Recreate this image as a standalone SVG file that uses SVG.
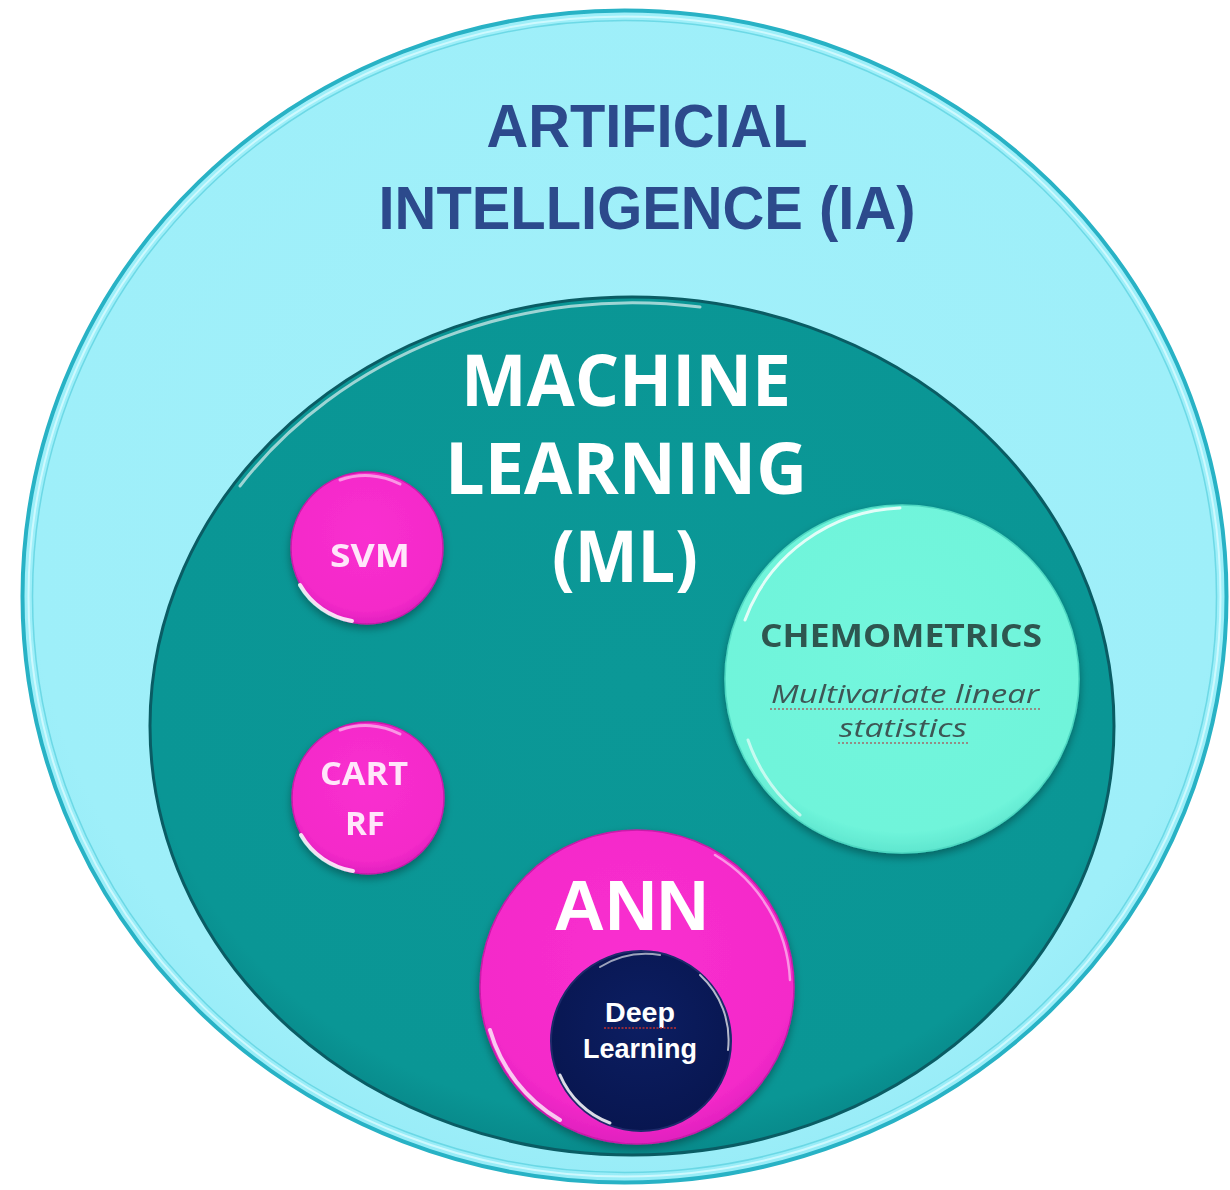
<svg xmlns="http://www.w3.org/2000/svg" width="1230" height="1190" viewBox="0 0 1230 1190">
  <defs>
    <radialGradient id="gOuter" cx="50%" cy="45%" r="55%">
      <stop offset="0" stop-color="#a2f0fa"/>
      <stop offset="0.9" stop-color="#9eeff9"/>
      <stop offset="1" stop-color="#98ecf7"/>
    </radialGradient>
    <radialGradient id="gML" cx="50%" cy="45%" r="55%">
      <stop offset="0" stop-color="#0b9897"/>
      <stop offset="0.92" stop-color="#0a9695"/>
      <stop offset="1" stop-color="#088a8b"/>
    </radialGradient>
    <radialGradient id="gPink" cx="50%" cy="40%" r="60%">
      <stop offset="0" stop-color="#f92fd0"/>
      <stop offset="0.85" stop-color="#f42ac9"/>
      <stop offset="1" stop-color="#e020bf"/>
    </radialGradient>
    <radialGradient id="gMint" cx="50%" cy="40%" r="60%">
      <stop offset="0" stop-color="#74f6dd"/>
      <stop offset="0.9" stop-color="#6ff4da"/>
      <stop offset="1" stop-color="#5fe6cf"/>
    </radialGradient>
    <radialGradient id="gNavy" cx="50%" cy="40%" r="60%">
      <stop offset="0" stop-color="#0c1e62"/>
      <stop offset="1" stop-color="#081650"/>
    </radialGradient>
    <filter id="shadow" x="-10%" y="-10%" width="120%" height="125%">
      <feGaussianBlur in="SourceAlpha" stdDeviation="4"/>
      <feOffset dx="0" dy="4" result="b"/>
      <feComponentTransfer><feFuncA type="linear" slope="0.35"/></feComponentTransfer>
      <feMerge><feMergeNode/><feMergeNode in="SourceGraphic"/></feMerge>
    </filter>
  </defs>
  <style>
    .title { font-family: "Liberation Sans", Arial, sans-serif; font-weight: bold; fill: #2c4a8c; }
    .ml { font-family: "Open Sans", "Liberation Sans", sans-serif; font-weight: bold; fill: #ffffff; }
    .pinkTxt { font-family: "Open Sans", "Liberation Sans", sans-serif; font-weight: bold; fill: #ffe6fa; }
    .ann { font-family: "Liberation Sans", Arial, sans-serif; font-weight: bold; fill: #ffffff; }
    .dl { font-family: "Liberation Sans", Arial, sans-serif; font-weight: bold; fill: #ffffff; }
    .chem { font-family: "Open Sans", "Liberation Sans", sans-serif; font-weight: bold; fill: #2e5650; }
    .chemSub { font-family: "Open Sans", "Liberation Sans", sans-serif; font-style: italic; fill: #3e5654; }
    .squiggle { stroke: #a06a6a; stroke-width: 1.5; stroke-dasharray: 2 2; fill: none; }
    .hl { fill: none; stroke: #ffffff; stroke-linecap: round; }
  </style>

  <g id="ai">
    <ellipse cx="624.5" cy="596.5" rx="602" ry="586" fill="url(#gOuter)" stroke="#28b2c5" stroke-width="4"/>
    <ellipse cx="624.5" cy="596.5" rx="596" ry="580" fill="none" stroke="#d9fbff" stroke-width="2" opacity="0.8"/>
    <ellipse cx="624.5" cy="596.5" rx="592" ry="576" fill="none" stroke="#3cc4d4" stroke-width="1.5" opacity="0.5"/>
    <text class="title" x="647" y="147" font-size="61" text-anchor="middle" textLength="321" lengthAdjust="spacingAndGlyphs">ARTIFICIAL</text>
    <text class="title" x="647" y="229" font-size="61" text-anchor="middle" textLength="537" lengthAdjust="spacingAndGlyphs">INTELLIGENCE (IA)</text>
  </g>

  <g id="ml">
    <ellipse cx="632" cy="726" rx="482" ry="429" fill="url(#gML)" stroke="#0a5c64" stroke-width="3"/>
    <path d="M 240 486 A 476 423 0 0 1 700 307" class="hl" stroke="#5fd2d4" stroke-width="3" opacity="0.6"/>
    <text class="ml" x="626" y="406" font-size="71" text-anchor="middle" textLength="330" lengthAdjust="spacingAndGlyphs">MACHINE</text>
    <text class="ml" x="626" y="494" font-size="71" text-anchor="middle" textLength="362" lengthAdjust="spacingAndGlyphs">LEARNING</text>
    <text class="ml" x="625" y="582" font-size="71" text-anchor="middle" textLength="146" lengthAdjust="spacingAndGlyphs">(ML)</text>
  </g>

  <g id="svm" filter="url(#shadow)">
    <circle cx="367" cy="548" r="76" fill="url(#gPink)" stroke="#c81aa8" stroke-width="1.5"/>
    <path d="M 300 585 A 74 74 0 0 0 352 621" class="hl" stroke-width="4" opacity="0.85"/>
    <path d="M 340 480 A 74 74 0 0 1 400 484" class="hl" stroke-width="3" opacity="0.5"/>
    <text class="pinkTxt" x="370" y="567" font-size="33" text-anchor="middle" textLength="80" lengthAdjust="spacingAndGlyphs">SVM</text>
  </g>

  <g id="cart" filter="url(#shadow)">
    <circle cx="368" cy="798" r="76" fill="url(#gPink)" stroke="#c81aa8" stroke-width="1.5"/>
    <path d="M 301 835 A 74 74 0 0 0 353 871" class="hl" stroke-width="4" opacity="0.85"/>
    <path d="M 340 730 A 74 74 0 0 1 400 734" class="hl" stroke-width="3" opacity="0.5"/>
    <text class="pinkTxt" x="364" y="785" font-size="32" text-anchor="middle" textLength="88" lengthAdjust="spacingAndGlyphs">CART</text>
    <text class="pinkTxt" x="365" y="835" font-size="32" text-anchor="middle" textLength="40" lengthAdjust="spacingAndGlyphs">RF</text>
  </g>

  <g id="chemometrics" filter="url(#shadow)">
    <ellipse cx="902" cy="679" rx="177" ry="174" fill="url(#gMint)" stroke="#4fd8c2" stroke-width="1.5"/>
    <path d="M 745 620 A 172 170 0 0 1 900 508" class="hl" stroke-width="3" opacity="0.8"/>
    <path d="M 748 740 A 172 170 0 0 0 800 815" class="hl" stroke-width="3" opacity="0.6"/>
    <text class="chem" x="901" y="647" font-size="32" text-anchor="middle" textLength="282" lengthAdjust="spacingAndGlyphs">CHEMOMETRICS</text>
    <text class="chemSub" x="905" y="703" font-size="25" text-anchor="middle" textLength="268" lengthAdjust="spacingAndGlyphs">Multivariate linear</text>
    <text class="chemSub" x="903" y="737" font-size="25" text-anchor="middle" textLength="128" lengthAdjust="spacingAndGlyphs">statistics</text>
    <line class="squiggle" x1="770" y1="709" x2="1040" y2="709"/>
    <line class="squiggle" x1="838" y1="743" x2="968" y2="743"/>
  </g>

  <g id="ann" filter="url(#shadow)">
    <circle cx="637" cy="987" r="157" fill="url(#gPink)" stroke="#c81aa8" stroke-width="1.5"/>
    <path d="M 490 1030 A 154 154 0 0 0 560 1120" class="hl" stroke-width="4" opacity="0.75"/>
    <path d="M 715 855 A 154 154 0 0 1 790 980" class="hl" stroke-width="2.5" opacity="0.5"/>
    <text class="ann" x="631" y="930" font-size="70" text-anchor="middle" textLength="155" lengthAdjust="spacingAndGlyphs">ANN</text>
  </g>

  <g id="deep-learning">
    <circle cx="641" cy="1041" r="90" fill="url(#gNavy)" stroke="#1d2a6a" stroke-width="2"/>
    <path d="M 560 1075 A 88 88 0 0 0 610 1123" class="hl" stroke="#c8d4ff" stroke-width="3" opacity="0.85"/>
    <path d="M 700 975 A 88 88 0 0 1 728 1050" class="hl" stroke="#9aa8f0" stroke-width="2" opacity="0.7"/>
    <path d="M 600 967 A 88 88 0 0 1 660 955" class="hl" stroke="#8090e0" stroke-width="2" opacity="0.6"/>
    <text class="dl" x="640" y="1022" font-size="27" text-anchor="middle" textLength="70" lengthAdjust="spacingAndGlyphs">Deep</text>
    <line x1="604" y1="1028" x2="676" y2="1028" stroke="#c03030" stroke-width="1.5" stroke-dasharray="2 1.5"/>
    <text class="dl" x="640" y="1058" font-size="27" text-anchor="middle" textLength="114" lengthAdjust="spacingAndGlyphs">Learning</text>
  </g>

  <g id="connectors"/>
</svg>
